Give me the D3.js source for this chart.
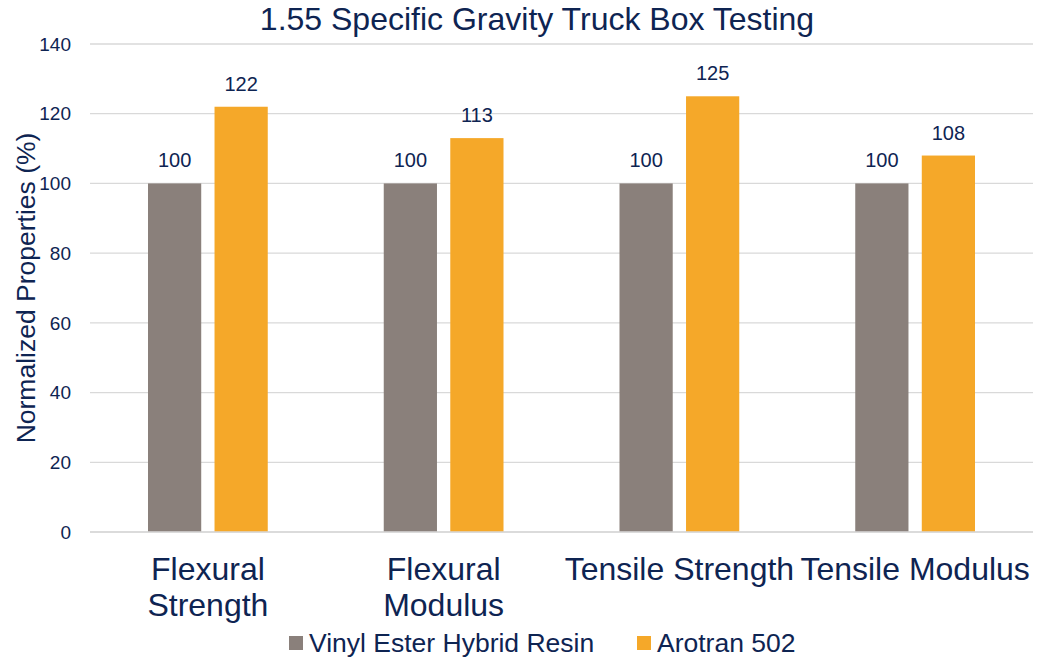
<!DOCTYPE html>
<meta charset="utf-8">
<head>
<style>
  body { margin: 0; background: #fff; }
  text { font-family: "Liberation Sans", Arial, sans-serif; fill: #0e2452; }
  .grid line { stroke: #d9d9d9; stroke-width: 1.3; }
</style>
</head>
<body>
<script src="https://cdn.jsdelivr.net/npm/d3@7"></script>
<script>
var categories = ["Flexural Strength", "Flexural Modulus", "Tensile Strength", "Tensile Modulus"];
var seriesNames = ["Vinyl Ester Hybrid Resin", "Arotran 502"];
var vinylEster = [100, 100, 100, 100];
var arotran = [122, 113, 125, 108];
var yTicks = [0, 20, 40, 60, 80, 100, 120, 140];
var colors = ["#8a807b", "#f5a829"];

var w = 1046, h = 657;
var margin = {left: 90, right: 13, top: 44, bottom: 125};

var svg = d3.select("body").append("svg")
    .attr("width", w)
    .attr("height", h);

var x = d3.scaleBand().domain(categories).range([margin.left, w - margin.right]);
var y = d3.scaleLinear().domain([0, 140]).range([h - margin.bottom, margin.top]);
var x1 = d3.scaleBand().domain(seriesNames)
    .range([x.bandwidth() * 0.246, x.bandwidth() * 0.754])
    .paddingInner(0.2);

// gridlines
svg.append("g").attr("class", "grid")
    .selectAll("line").data(yTicks).enter().append("line")
    .attr("x1", margin.left).attr("x2", w - margin.right)
    .attr("y1", function(d) { return y(d); })
    .attr("y2", function(d) { return y(d); });

// y tick labels
svg.append("g").selectAll("text").data(yTicks).enter().append("text")
    .attr("x", 71).attr("y", function(d) { return y(d); })
    .attr("dy", "0.35em")
    .attr("text-anchor", "end")
    .style("font-size", "19px")
    .text(function(d) { return d; });

var rows = categories.map(function(c, i) {
    return {cat: c, values: [vinylEster[i], arotran[i]]};
});

var groups = svg.append("g").selectAll("g").data(rows).enter().append("g")
    .attr("transform", function(d) { return "translate(" + x(d.cat) + ",0)"; });

groups.selectAll("rect").data(function(d) { return d.values; }).enter().append("rect")
    .attr("x", function(d, i) { return x1(seriesNames[i]); })
    .attr("y", function(d) { return y(d); })
    .attr("width", x1.bandwidth())
    .attr("height", function(d) { return y(0) - y(d); })
    .attr("fill", function(d, i) { return colors[i]; });

groups.selectAll("text.val").data(function(d) { return d.values; }).enter().append("text")
    .attr("class", "val")
    .attr("x", function(d, i) { return x1(seriesNames[i]) + x1.bandwidth() / 2; })
    .attr("y", function(d) { return y(d) - 16; })
    .attr("text-anchor", "middle")
    .style("font-size", "20px")
    .text(function(d) { return d; });

// bottom axis line
svg.append("line")
    .attr("x1", margin.left).attr("x2", w - margin.right)
    .attr("y1", y(0)).attr("y2", y(0))
    .attr("stroke", "#d9d9d9").attr("stroke-width", 1.5);

// category labels, wrapped to band width
var catLabels = svg.append("g").selectAll("text").data(categories).enter().append("text")
    .attr("x", function(d) { return x(d) + x.bandwidth() / 2; })
    .attr("y", 580)
    .attr("text-anchor", "middle")
    .style("font-size", "32px")
    .text(function(d) { return d; });

catLabels.each(function(d) {
    var t = d3.select(this);
    if (this.getComputedTextLength() <= x.bandwidth()) return;
    var words = d.split(" ");
    var cx = t.attr("x");
    t.text(null);
    words.forEach(function(wd, i) {
        t.append("tspan").attr("x", cx).attr("dy", i === 0 ? 0 : 36).text(wd);
    });
});

// title
svg.append("text")
    .attr("x", 537).attr("y", 30)
    .attr("text-anchor", "middle")
    .style("font-size", "32px")
    .text("1.55 Specific Gravity Truck Box Testing");

// y axis title
svg.append("text")
    .attr("transform", "translate(35,288) rotate(-90)")
    .attr("text-anchor", "middle")
    .style("font-size", "26.5px")
    .text("Normalized Properties (%)");

// legend
var legendX = [289, 637];
var legend = svg.append("g").selectAll("g").data(seriesNames).enter().append("g")
    .attr("transform", function(d, i) { return "translate(" + legendX[i] + ",636)"; });
legend.append("rect")
    .attr("width", 14).attr("height", 14)
    .attr("fill", function(d, i) { return colors[i]; });
legend.append("text")
    .attr("x", 20).attr("y", 7).attr("dy", "0.35em")
    .style("font-size", "26.5px")
    .text(function(d) { return d; });
</script>
</body>
